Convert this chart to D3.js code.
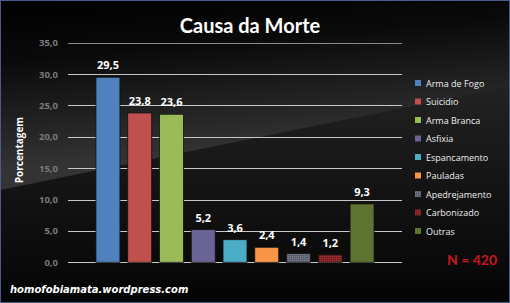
<!DOCTYPE html>
<html>
<head>
<meta charset="utf-8">
<script src="https://cdn.jsdelivr.net/npm/d3@7"></script>
<style>
  html, body { margin: 0; padding: 0; background: #000; }
  svg { display: block; }
</style>
</head>
<body>
<svg id="chart"></svg>
<script>
// chart data
const categories = ["Arma de Fogo", "Suicidio", "Arma Branca", "Asfixia", "Espancamento",
                    "Pauladas", "Apedrejamento", "Carbonizado", "Outras"];
const values = [29.5, 23.8, 23.6, 5.2, 3.6, 2.4, 1.4, 1.2, 9.3];
const colors = ["#4f81bd", "#c0504d", "#9bbb59", "#6b6597", "#4bacc6",
                "#f79646", "#5c606e", "#8a2525", "#5e7331"];
const yTicks = [0, 5, 10, 15, 20, 25, 30, 35];

const width = 510, height = 303;
const svg = d3.select("#chart").attr("width", width).attr("height", height);
const defs = svg.append("defs");

// background: dark top, lighter grey band, darker diagonal wedge below
const bg = defs.append("linearGradient").attr("id", "bg")
    .attr("x1", 0).attr("y1", 0).attr("x2", 0.15).attr("y2", 1);
bg.append("stop").attr("offset", "0%").attr("stop-color", "#000");
bg.append("stop").attr("offset", "20%").attr("stop-color", "#0a0a0a");
bg.append("stop").attr("offset", "55%").attr("stop-color", "#333");
bg.append("stop").attr("offset", "100%").attr("stop-color", "#3a3a3a");

const low = defs.append("linearGradient").attr("id", "low")
    .attr("x1", 0).attr("y1", 0).attr("x2", 0).attr("y2", 1);
low.append("stop").attr("offset", "0%").attr("stop-color", "#222");
low.append("stop").attr("offset", "45%").attr("stop-color", "#141414");
low.append("stop").attr("offset", "100%").attr("stop-color", "#050505");

// hatched pattern for the small textured bars
function hatch(id, c1, c2) {
  const p = defs.append("pattern").attr("id", id).attr("patternUnits", "userSpaceOnUse")
      .attr("width", 2).attr("height", 2);
  p.append("rect").attr("width", 2).attr("height", 2).attr("fill", c1);
  p.append("rect").attr("width", 1).attr("height", 1).attr("fill", c2);
}
hatch("hatch6", "#5c606e", "#7c8090");
hatch("hatch7", "#7a1f1f", "#a33a3a");

svg.append("rect").attr("width", width).attr("height", height).attr("fill", "url(#bg)");
svg.append("path")
    .attr("d", `M0,190 L${width},86 L${width},${height} L0,${height} Z`)
    .attr("fill", "url(#low)");
svg.append("rect").attr("y", 281).attr("width", width).attr("height", 22).attr("fill", "#050505");
svg.append("rect").attr("x", 0.5).attr("y", 0.5).attr("width", width - 1).attr("height", height - 1)
    .attr("fill", "none").attr("stroke", "#4a5a8c").attr("stroke-width", 1);

// scales
const x = d3.scaleBand().domain(categories).range([68, 402])
    .paddingInner(0.245).paddingOuter(0.88);
const y = d3.scaleLinear().domain([0, 35]).range([262.3, 42.7]);

// grid lines
svg.append("g").selectAll("line").data(yTicks).join("line")
    .attr("x1", 68).attr("x2", 402)
    .attr("y1", d => Math.round(y(d)) + 0.5).attr("y2", d => Math.round(y(d)) + 0.5)
    .attr("stroke", d => d === 35 ? "#8a8a8a" : "#c8c8c8").attr("stroke-width", 1);

// y axis tick labels
const fmt = d => d3.format(".1f")(d).replace(".", ",");
svg.append("g").selectAll("text").data(yTicks).join("text")
    .attr("x", 58).attr("y", d => y(d) + 3.5)
    .attr("text-anchor", "end")
    .attr("font-family", "Open Sans, sans-serif").attr("font-size", 9.5).attr("font-weight", "bold")
    .attr("fill", "#7a7a7a")
    .text(fmt);

// y axis title
svg.append("text")
    .attr("transform", "translate(23,150) rotate(-90)")
    .attr("text-anchor", "middle")
    .attr("font-family", "Open Sans, sans-serif").attr("font-size", 10).attr("font-weight", "bold")
    .attr("fill", "#fff")
    .text("Porcentagem");

// bars
const fills = colors.map((c, i) => i === 6 ? "url(#hatch6)" : i === 7 ? "url(#hatch7)" : c);
svg.append("g").selectAll("rect").data(values).join("rect")
    .attr("x", (d, i) => x(categories[i]))
    .attr("y", d => y(d))
    .attr("width", x.bandwidth())
    .attr("height", d => y(0) - y(d))
    .attr("fill", (d, i) => fills[i])
    .attr("stroke", "#111").attr("stroke-width", 0.8);

// value labels
svg.append("g").selectAll("text").data(values).join("text")
    .attr("x", (d, i) => x(categories[i]) + x.bandwidth() / 2)
    .attr("y", d => y(d) - 8)
    .attr("text-anchor", "middle")
    .attr("font-family", "Open Sans, sans-serif").attr("font-size", 11).attr("font-weight", "bold")
    .attr("fill", "#fff")
    .text(fmt);

// title
svg.append("text")
    .attr("x", 250).attr("y", 33)
    .attr("text-anchor", "middle")
    .attr("font-family", "Lato, sans-serif").attr("font-size", 20).attr("font-weight", "bold")
    .attr("fill", "#fff")
    .text("Causa da Morte");

// legend
const legend = svg.append("g").selectAll("g").data(categories).join("g")
    .attr("transform", (d, i) => `translate(415,${83 + i * 18.5})`);
legend.append("rect")
    .attr("x", 0).attr("y", -3).attr("width", 6).attr("height", 6)
    .attr("fill", (d, i) => fills[i]);
legend.append("text")
    .attr("x", 11).attr("y", 3.5)
    .attr("font-family", "Open Sans, sans-serif").attr("font-size", 9)
    .attr("fill", "#eee")
    .text(d => d);

// sample size
svg.append("text")
    .attr("x", 472).attr("y", 265)
    .attr("text-anchor", "middle")
    .attr("font-family", "Lato, sans-serif").attr("font-size", 14).attr("font-weight", "bold")
    .attr("fill", "#c8161d")
    .text("N = 420");

// footer
svg.append("text")
    .attr("x", 10).attr("y", 293)
    .attr("font-family", "DejaVu Sans, sans-serif").attr("font-size", 10)
    .attr("font-weight", "bold").attr("font-style", "italic")
    .attr("fill", "#fff")
    .text("homofobiamata.wordpress.com");
</script>
</body>
</html>
